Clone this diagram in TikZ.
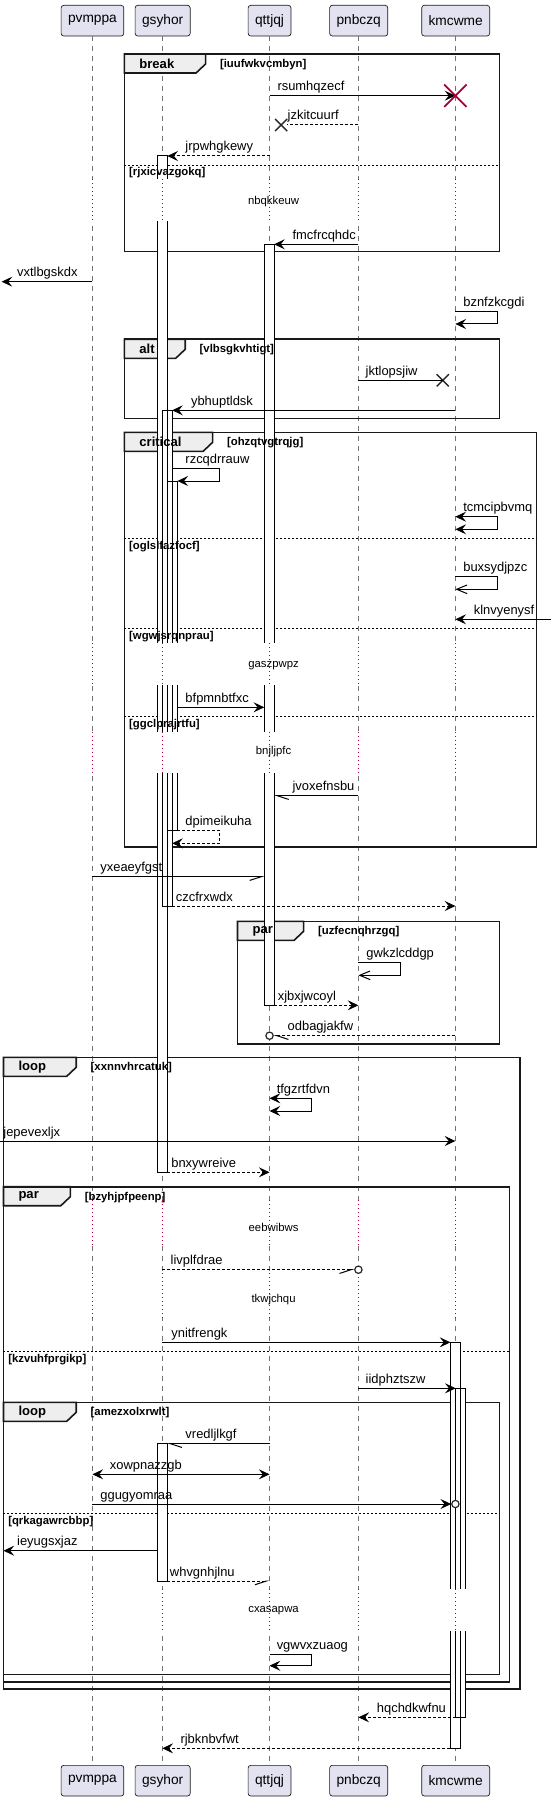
\documentclass[tikz,border=0pt]{standalone}
\usepackage{fontspec}
\setmainfont{Liberation Sans}
\usepackage{tikz}
\usetikzlibrary{arrows.meta}
\usetikzlibrary{shapes.misc}
\definecolor{plantred}{HTML}{A80036}
\definecolor{headfill}{HTML}{E2E2F0}
\definecolor{headborder}{HTML}{181818}
\definecolor{tabgray}{HTML}{EEEEEE}
\pgfdeclarelayer{front}
\pgfsetlayers{main,front}

% combined fragment: x1, y1, x2, y2, tab right, kind, guard, name
\newcommand{\seqfragment}[8]{%
  \draw[fragment tab] (#1,#2) -- (#5,#2) -- (#5,#2+10) -- (#5-9,#2+19) -- (#1,#2+19) -- cycle;
  \draw[fragment] (#1,#2) rectangle (#3,#4);
  \begin{pgfonlayer}{front}
    \node[fragment kind] (#8_kind) at (#1+14,#2+10) {#6};
    \node[fragment guard] (#8_guard) at (#5+13.5,#2+10.5) {[#7]};
  \end{pgfonlayer}
}
% else line: x1, x2, y, guard, name
\newcommand{\seqelse}[5]{%
  \draw[else line] (#1,#3) -- (#2,#3);
  \begin{pgfonlayer}{front}
    \node[fragment guard] (#5) at (#1+4.3,#3+8) {[#4]};
  \end{pgfonlayer}
}
\def\barlist{149.3/156/158.7/1172.3, 154/410.3/163.3/906, 158.7/481/168.3/830.3,
  149.3/1443.7/158.7/1581, 250.7/244.3/260/1005.3, 427.3/1342.3/436.7/1748.3,
  432.3/1388.3/441.7/1717.3}

\begin{document}
\begin{tikzpicture}[
    x=0.7906pt, y=-0.75pt,
    participant/.style={draw=headborder, fill=headfill, rounded corners=2pt, line width=0.5pt,
                        minimum height=23pt, inner xsep=5.2pt, font=\fontsize{10.3}{12}\selectfont},
    lifeline/.style={draw=black!55, line width=0.6pt, dash pattern=on 3.75pt off 3.75pt},
    activation/.style={draw=black, line width=0.75pt},
    fragment/.style={draw=black!90, line width=1.2pt},
    fragment tab/.style={fragment, fill=tabgray},
    fragment kind/.style={anchor=west, inner sep=0pt, font=\bfseries\fontsize{9.8}{11}\selectfont},
    fragment guard/.style={anchor=west, inner sep=0pt, font=\bfseries\fontsize{8.5}{10}\selectfont},
    else line/.style={line width=0.6pt, dash pattern=on 1.5pt off 1.5pt},
    delay line/.style={draw=plantred, line width=0.6pt, dash pattern=on 0.75pt off 2.25pt},
    delay text/.style={inner sep=0pt, font=\fontsize{8.5}{10}\selectfont},
    message/.style={line width=0.75pt, -{Stealth[length=8pt,width=7.5pt,inset=3pt]}},
    reply/.style={message, dash pattern=on 2.25pt off 1.5pt},
    no head/.style={-},
    both heads/.style={{Stealth[length=8pt,width=7.5pt,inset=3pt]}-{Stealth[length=8pt,width=7.5pt,inset=3pt]}},
    open head/.style={-{Straight Barb[length=7.8pt,width=6.5pt]}},
    lower half left/.style={-{Straight Barb[left,length=8.6pt,width=5.6pt]}},
    lower half right/.style={-{Straight Barb[right,length=8.6pt,width=5.6pt]}},
    message label/.style={anchor=base west, inner sep=0pt, font=\fontsize{9.7}{11}\selectfont},
    destroy cross/.style={cross out, draw=plantred, line width=1.3pt, minimum size=15.5pt, inner sep=0pt},
    lost cross/.style={cross out, draw=black!85, line width=1.1pt, minimum size=8pt, inner sep=0pt},
    end circle/.style={circle, draw=black!85, fill=white, line width=0.9pt, minimum size=5.5pt, inner sep=0pt},
  ]
  \useasboundingbox (0,0) rectangle (522.7,1801);

  % Participants, head and foot
  \node[participant] (head_pvmppa) at (87.7,20.65) {pvmppa};
  \node[participant] (head_gsyhor) at (154.3,20.65) {gsyhor};
  \node[participant] (head_qttjqj) at (255.7,20.65) {qttjqj};
  \node[participant] (head_pnbczq) at (340.3,20.65) {pnbczq};
  \node[participant] (head_kmcwme) at (432.3,20.65) {kmcwme};
  \node[participant] (foot_pvmppa) at (87.7,1780.65) {pvmppa};
  \node[participant] (foot_gsyhor) at (154.3,1780.65) {gsyhor};
  \node[participant] (foot_qttjqj) at (255.7,1780.65) {qttjqj};
  \node[participant] (foot_pnbczq) at (340.3,1780.65) {pnbczq};
  \node[participant] (foot_kmcwme) at (432.3,1780.65) {kmcwme};

  % Lifelines
  \draw[lifeline] (head_pvmppa.south) -- (foot_pvmppa.north);
  \draw[lifeline] (head_gsyhor.south) -- (foot_gsyhor.north);
  \draw[lifeline] (head_qttjqj.south) -- (foot_qttjqj.north);
  \draw[lifeline] (head_pnbczq.south) -- (foot_pnbczq.north);
  \draw[lifeline] (head_kmcwme.south) -- (foot_kmcwme.north);

  % Combined fragments
  \seqfragment{118}{54}{474}{251.7}{195}{break}{iuufwkvcmbyn}{break_one}
  \seqelse{118}{474}{165}{rjxicvazgokq}{break_one_else}
  \seqfragment{118}{339.3}{474}{418.3}{175.7}{alt}{vlbsgkvhtigt}{alt_one}
  \seqfragment{118}{432.3}{509}{846.7}{201.7}{critical}{ohzqtvgtrqjg}{critical_one}
  \seqelse{118}{509}{538.3}{oglslfazfocf}{critical_else_one}
  \seqelse{118}{509}{628.3}{wgwjsrqnprau}{critical_else_two}
  \seqelse{118}{509}{716.7}{ggclprajrtfu}{critical_else_three}
  \seqfragment{225.3}{921.3}{474}{1044}{288}{par}{uzfecnqhrzgq}{par_one}
  \seqfragment{3.3}{1057.3}{493.3}{1689}{72.3}{loop}{xxnnvhrcatuk}{loop_one}
  \seqfragment{3.3}{1186.7}{483.3}{1681.7}{66.7}{par}{bzyhjpfpeenp}{par_two}
  \seqelse{3.3}{483.3}{1351.7}{kzvuhfprgikp}{par_two_else}
  \seqfragment{3.3}{1402.3}{474}{1674.3}{72.3}{loop}{amezxolxrwlt}{loop_two}
  \seqelse{3.3}{474}{1513.3}{qrkagawrcbbp}{loop_two_else}

  % Activation bars
  \foreach \xa/\ya/\xb/\yb in \barlist {\fill[white] (\xa,\ya) rectangle (\xb,\yb);}
  \foreach \xa/\ya/\xb/\yb in \barlist {\draw[activation] (\xa,\ya) rectangle (\xb,\yb);}

  % Delays: lifelines turn dotted
  \foreach \ya/\yb/\yt/\txt in {179.3/221/201.7/nbqkkeuw, 643.3/685/665.7/gaszpwpz,
      731.7/773.3/752/bnjljpfc, 1200/1245/1227.3/eebwibws, 1273/1318/1299.3/tkwjchqu,
      1589.3/1630.7/1611/cxasapwa} {
    \foreach \lx in {87.7,154,255.7,340,432} {
      \fill[white] (\lx-15,\ya) rectangle (\lx+15,\yb);
      \draw[delay line] (\lx,\ya) -- (\lx,\yb);
    }
    \node[delay text] (delay_\txt) at (259.5,\yt) {\txt};
  }

  % Messages
  \coordinate (rsum_from) at (255.7,95.7);
  \coordinate (rsum_to) at (432,95.7);
  \draw[message] (rsum_from) -- (rsum_to);
  \node[destroy cross] (rsum_cross) at (rsum_to) {};
  \node[message label] (rsum_label) at (263,90.7) {rsumhqzecf};

  \coordinate (jzki_from) at (340,125);
  \node[lost cross] (jzki_cross) at (266.7,125) {};
  \draw[reply, no head] (jzki_from) -- (jzki_cross.east);
  \node[message label] (jzki_label) at (272.7,120) {jzkitcuurf};

  \coordinate (jrpw_from) at (255.7,156);
  \coordinate (jrpw_to) at (158.7,156);
  \draw[reply] (jrpw_from) -- (jrpw_to);
  \node[message label] (jrpw_label) at (175.7,151) {jrpwhgkewy};

  \coordinate (fmcf_from) at (340,244.3);
  \coordinate (fmcf_to) at (260,244.3);
  \draw[message] (fmcf_from) -- (fmcf_to);
  \node[message label] (fmcf_label) at (277.3,239.3) {fmcfrcqhdc};

  \coordinate (vxtl_from) at (87.7,281.7);
  \coordinate (vxtl_to) at (1.5,281.7);
  \draw[message] (vxtl_from) -- (vxtl_to);
  \node[message label] (vxtl_label) at (16,276.7) {vxtlbgskdx};

  \coordinate (bznf_from) at (432,311.7);
  \coordinate (bznf_to) at (432,324);
  \draw[message] (bznf_from) -- ++(39.7,0) |- (bznf_to);
  \node[message label] (bznf_label) at (439.3,306.7) {bznfzkcgdi};

  \coordinate (jktl_from) at (340,380.3);
  \node[lost cross] (jktl_cross) at (420,380.3) {};
  \draw[message, no head] (jktl_from) -- (jktl_cross.center);
  \node[message label] (jktl_label) at (346.7,375.3) {jktlopsjiw};

  \coordinate (ybhu_from) at (432,410.3);
  \coordinate (ybhu_to) at (163.3,410.3);
  \draw[message] (ybhu_from) -- (ybhu_to);
  \node[message label] (ybhu_label) at (181,405.3) {ybhuptldsk};

  \coordinate (rzcq_from) at (163.3,468.3);
  \coordinate (rzcq_to) at (168.3,481);
  \draw[message] (rzcq_from) -- ++(45,0) |- (rzcq_to);
  \node[message label] (rzcq_label) at (175.7,463.3) {rzcqdrrauw};

  \coordinate (tcmc_from) at (432,516.7);
  \coordinate (tcmc_to) at (432,529.3);
  \draw[message, both heads] (tcmc_from) -- ++(39.7,0) |- (tcmc_to);
  \node[message label] (tcmc_label) at (439.3,511.7) {tcmcipbvmq};

  \coordinate (buxs_from) at (432,576);
  \coordinate (buxs_to) at (432,589.3);
  \draw[message, open head] (buxs_from) -- ++(39.7,0) |- (buxs_to);
  \node[message label] (buxs_label) at (439.3,571) {buxsydjpzc};

  \coordinate (klnv_from) at (522.7,619.3);
  \coordinate (klnv_to) at (432,619.3);
  \draw[message] (klnv_from) -- (klnv_to);
  \node[message label] (klnv_label) at (449.3,614.3) {klnvyenysf};

  \coordinate (bfpm_from) at (168.3,707.3);
  \coordinate (bfpm_to) at (250.7,707.3);
  \draw[message] (bfpm_from) -- (bfpm_to);
  \node[message label] (bfpm_label) at (175.7,702.3) {bfpmnbtfxc};

  \coordinate (jvox_from) at (340,795.7);
  \coordinate (jvox_to) at (260,795.7);
  \draw[message, lower half left] (jvox_from) -- (jvox_to);
  \node[message label] (jvox_label) at (277.3,790.7) {jvoxefnsbu};

  \coordinate (dpim_from) at (168.3,830.3);
  \coordinate (dpim_to) at (163.3,843.3);
  \draw[reply] (dpim_from) -- ++(40,0) |- (dpim_to);
  \node[message label] (dpim_label) at (175.7,825.3) {dpimeikuha};

  \coordinate (yxea_from) at (87.7,876.7);
  \coordinate (yxea_to) at (250.7,876.7);
  \draw[message, lower half right] (yxea_from) -- (yxea_to);
  \node[message label] (yxea_label) at (95,871.7) {yxeaeyfgst};

  \coordinate (czcf_from) at (163.3,906);
  \coordinate (czcf_to) at (432,906);
  \draw[reply] (czcf_from) -- (czcf_to);
  \node[message label] (czcf_label) at (166.7,901) {czcfrxwdx};

  \coordinate (gwkz_from) at (340,962.3);
  \coordinate (gwkz_to) at (340,975.3);
  \draw[message, open head] (gwkz_from) -- ++(40,0) |- (gwkz_to);
  \node[message label] (gwkz_label) at (347.3,957.3) {gwkzlcddgp};

  \coordinate (xjbx_from) at (260,1005.3);
  \coordinate (xjbx_to) at (340,1005.3);
  \draw[reply] (xjbx_from) -- (xjbx_to);
  \node[message label] (xjbx_label) at (263.3,1000.3) {xjbxjwcoyl};

  \coordinate (odba_from) at (432,1035.7);
  \node[end circle] (odba_circle) at (255.7,1035.7) {};
  \draw[reply, lower half left] (odba_from) -- (odba_circle);
  \node[message label] (odba_label) at (272.7,1030.7) {odbagjakfw};

  \coordinate (tfgz_from) at (255.7,1098.3);
  \coordinate (tfgz_to) at (255.7,1111);
  \draw[message, both heads] (tfgz_from) -- ++(40,0) |- (tfgz_to);
  \node[message label] (tfgz_label) at (262.3,1093.3) {tfgzrtfdvn};

  \coordinate (jepe_from) at (0,1141);
  \coordinate (jepe_to) at (432,1141);
  \draw[message] (jepe_from) -- (jepe_to);
  \node[message label] (jepe_label) at (3,1136) {jepevexljx};

  \coordinate (bnxy_from) at (158.7,1172.3);
  \coordinate (bnxy_to) at (255.7,1172.3);
  \draw[reply] (bnxy_from) -- (bnxy_to);
  \node[message label] (bnxy_label) at (162.3,1167.3) {bnxywreive};

  \coordinate (livp_from) at (154,1269.7);
  \node[end circle] (livp_circle) at (340,1269.7) {};
  \draw[reply, lower half right] (livp_from) -- (livp_circle);
  \node[message label] (livp_label) at (161.7,1264.7) {livplfdrae};

  \coordinate (ynit_from) at (154,1342.3);
  \coordinate (ynit_to) at (427.3,1342.3);
  \draw[message] (ynit_from) -- (ynit_to);
  \node[message label] (ynit_label) at (162.3,1337.3) {ynitfrengk};

  \coordinate (iidp_from) at (340,1388.3);
  \coordinate (iidp_to) at (432.3,1388.3);
  \draw[message] (iidp_from) -- (iidp_to);
  \node[message label] (iidp_label) at (346.7,1383.3) {iidphztszw};

  \coordinate (vred_from) at (255.7,1443.7);
  \coordinate (vred_to) at (158.7,1443.7);
  \draw[message, lower half left] (vred_from) -- (vred_to);
  \node[message label] (vred_label) at (175.7,1438.7) {vredljlkgf};

  \coordinate (xowp_from) at (87.7,1474.3);
  \coordinate (xowp_to) at (255.7,1474.3);
  \draw[message, both heads] (xowp_from) -- (xowp_to);
  \node[message label] (xowp_label) at (104,1469.3) {xowpnazzgb};

  \coordinate (ggug_from) at (87.7,1504);
  \node[end circle] (ggug_circle) at (432,1504) {};
  \draw[message] (ggug_from) -- (ggug_circle);
  \node[message label] (ggug_label) at (95,1499) {ggugyomraa};

  \coordinate (ieyu_from) at (149.3,1550.7);
  \coordinate (ieyu_to) at (3.3,1550.7);
  \draw[message] (ieyu_from) -- (ieyu_to);
  \node[message label] (ieyu_label) at (16,1545.7) {ieyugsxjaz};

  \coordinate (whvg_from) at (158.7,1581);
  \coordinate (whvg_to) at (255.7,1581);
  \draw[reply, lower half right] (whvg_from) -- (whvg_to);
  \node[message label] (whvg_label) at (161,1576) {whvgnhjlnu};

  \coordinate (vgwv_from) at (255.7,1654);
  \coordinate (vgwv_to) at (255.7,1665.7);
  \draw[message] (vgwv_from) -- ++(40,0) |- (vgwv_to);
  \node[message label] (vgwv_label) at (262.3,1649) {vgwvxzuaog};

  \coordinate (hqch_from) at (432.3,1717.3);
  \coordinate (hqch_to) at (340,1717.3);
  \draw[reply] (hqch_from) -- (hqch_to);
  \node[message label] (hqch_label) at (357.3,1712.3) {hqchdkwfnu};

  \coordinate (rjbk_from) at (427.3,1748.3);
  \coordinate (rjbk_to) at (154,1748.3);
  \draw[reply] (rjbk_from) -- (rjbk_to);
  \node[message label] (rjbk_label) at (171,1743.3) {rjbknbvfwt};

\end{tikzpicture}
\end{document}
